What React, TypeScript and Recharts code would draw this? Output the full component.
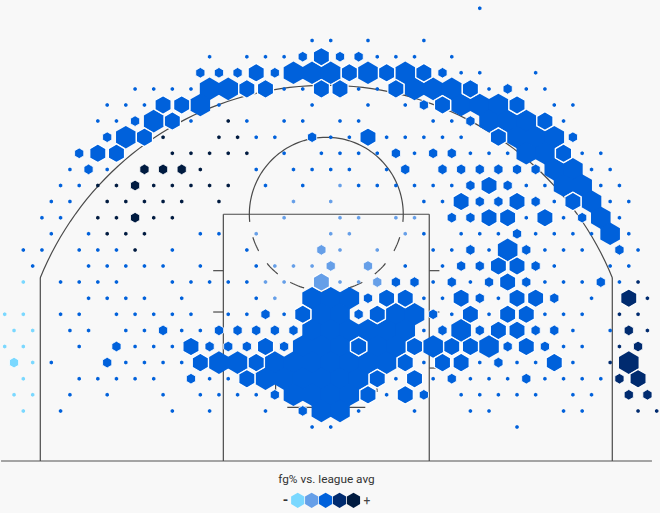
import React from 'react';
import { ScatterChart, Scatter, XAxis, YAxis } from 'recharts';

type RowCols = [number, number[]];

// hex sizes, each entry is [grid row, columns in that row]
const largeHexes: RowCols[] = [
  [22, [15, 16, 17, 19, 21]],
  [21, [11, 12, 22, 23, 24]],
  [20, [10, 24, 25, 26]],
  [19, [8, 26, 27, 28]],
  [18, [6, 27, 28, 29]],
  [17, [28, 29]],
  [16, [29, 30]],
  [15, [30, 31]],
  [14, [31]],
  [13, [32]],
  [12, [32]],
  [11, [27]],
  [8, [16, 17, 18]],
  [7, [17, 18, 21, 22]],
  [6, [16, 17, 18, 19, 20, 21, 24]],
  [5, [16, 17, 18, 20, 21, 23, 26]],
  [4, [11, 12, 14, 15, 16, 17, 18, 19, 20, 33]],
  [3, [14, 15, 16, 17, 18, 19]],
  [2, [15, 16, 17, 18]],
  [1, [17, 18]],
];

const mediumHexes: RowCols[] = [
  [23, [17]],
  [22, [13, 18, 20, 22]],
  [21, [13, 14, 17, 18, 21, 25]],
  [20, [8, 9, 23, 27]],
  [19, [9, 29]],
  [18, [7, 19, 26]],
  [17, [5, 6, 30]],
  [15, [26]],
  [14, [24, 27, 30]],
  [13, [26, 27, 29]],
  [10, [26, 27]],
  [9, [17, 27]],
  [8, [20, 21, 24, 27, 28, 33]],
  [7, [16, 20, 25, 27, 28]],
  [6, [26, 27]],
  [5, [10, 14, 19, 22, 24, 25, 28]],
  [4, [10, 13, 21, 23, 24, 29]],
  [3, [13, 20, 22, 34]],
  [2, [19, 21]],
];

const smallHexes: RowCols[] = [
  [23, [16, 18, 19]],
  [22, [10, 11, 12, 14, 23]],
  [21, [27]],
  [20, [22]],
  [19, [7, 25]],
  [18, [5, 16, 30]],
  [17, [4, 21, 23, 24]],
  [16, [4, 7, 8, 9, 21, 23, 24, 25, 26, 27, 28]],
  [15, [7, 25, 27]],
  [14, [25, 26, 28]],
  [13, [7, 24, 25, 31]],
  [12, [27]],
  [11, [17, 25, 28, 33]],
  [10, [17, 19, 24, 25, 28]],
  [9, [20, 21, 22, 24, 26, 28, 32]],
  [8, [19, 25, 29]],
  [7, [14, 19, 23]],
  [6, [8, 11, 12, 13, 14, 15, 23, 25, 28, 29, 33]],
  [5, [6, 11, 12, 13, 15, 27, 29, 34]],
  [4, [0, 5, 26]],
  [3, [10, 24, 28, 33]],
  [2, [14, 22, 33, 34]],
  [1, [16]],
];

const dotHexes: RowCols[] = [
  [26, [25]],
  [24, [16, 17, 19, 22]],
  [23, [11, 13, 14, 15, 20, 21, 22, 24]],
  [22, [24, 25, 28]],
  [21, [7, 8, 9, 10, 15, 16, 19, 20, 26, 28, 29]],
  [20, [5, 6, 7, 11, 16, 19, 21, 29, 30]],
  [19, [5, 6, 10, 12, 13, 15, 16, 18, 19, 23, 24, 30]],
  [18, [8, 11, 12, 13, 14, 17, 18, 20, 21, 22, 23, 24]],
  [17, [9, 10, 11, 12, 13, 15, 17, 18, 19, 20, 22, 25, 26, 27, 31, 32]],
  [16, [3, 5, 10, 13, 15, 16, 17, 18, 20, 31, 32]],
  [15, [3, 4, 5, 6, 8, 9, 10, 11, 12, 14, 16, 18, 19, 20, 21, 22, 23, 24, 28, 29, 32, 33]],
  [14, [2, 3, 5, 6, 7, 8, 9, 11, 15, 17, 22, 23, 29, 32, 33]],
  [13, [2, 3, 5, 6, 8, 9, 15, 18, 19, 21, 22, 28, 30, 33]],
  [12, [2, 4, 5, 6, 7, 10, 11, 13, 17, 18, 21, 22, 24, 25, 26, 28, 29, 30, 31, 33]],
  [11, [1, 2, 4, 5, 6, 7, 9, 13, 18, 20, 23, 24, 26, 29, 30, 31, 34]],
  [10, [1, 4, 5, 6, 7, 8, 10, 13, 14, 15, 16, 21, 23, 29, 32, 33]],
  [9, [1, 3, 4, 5, 6, 9, 10, 11, 12, 13, 14, 15, 18, 19, 23, 25, 29, 30, 31, 33, 34]],
  [8, [4, 5, 6, 7, 9, 13, 14, 22, 23, 26, 31, 34]],
  [7, [0, 1, 3, 4, 6, 7, 8, 9, 10, 12, 13, 15, 24, 26, 29, 30, 31, 33, 34]],
  [6, [0, 1, 3, 4, 6, 7, 9, 10, 22, 30, 32, 34]],
  [5, [0, 1, 4, 7, 8, 9, 30, 31, 33]],
  [4, [1, 2, 6, 7, 8, 9, 22, 25, 27, 28, 30, 32]],
  [3, [1, 4, 5, 6, 7, 8, 11, 12, 21, 23, 25, 26, 27, 29, 30, 31, 32]],
  [2, [0, 1, 3, 5, 8, 10, 11, 12, 13, 20, 24, 25, 26, 27, 28, 30, 31]],
  [1, [1, 3, 9, 11, 14, 19, 22, 25, 26, 30, 31, 34, 35]],
  [0, [16, 17, 27]],
];

// fg% buckets, anything not listed here is the middle blue
const lowestCells: RowCols[] = [
  [9, [1]],
  [7, [0, 1]],
  [6, [0, 1]],
  [5, [0, 1]],
  [4, [0, 1]],
  [3, [1]],
  [2, [0, 1]],
  [1, [1]],
];

const lowCells: RowCols[] = [
  [15, [18]],
  [14, [15, 17]],
  [13, [15, 18, 19, 21, 22]],
  [12, [13, 17, 18, 21]],
  [11, [17, 18, 20]],
  [10, [14, 15, 16, 17, 19]],
  [9, [14, 15, 17, 18, 19, 20]],
  [8, [14]],
];

const highCells: RowCols[] = [
  [9, [34]],
  [8, [33, 34]],
  [7, [33, 34]],
  [6, [33, 34]],
  [5, [33, 34]],
  [4, [32, 33]],
  [3, [33, 34]],
  [2, [33, 34]],
  [1, [34, 35]],
];

const highestCells: RowCols[] = [
  [19, [12]],
  [18, [8, 11, 12]],
  [17, [9, 10, 11, 12, 13]],
  [16, [7, 8, 9, 10]],
  [15, [5, 6, 7, 8, 9, 10, 11, 12]],
  [14, [5, 6, 7, 8, 9, 11]],
  [13, [5, 6, 7, 8, 9]],
  [12, [5, 6, 7]],
  [11, [7]],
];

const bucketColors = ['#7ad8ff', '#669fe8', '#0061db', '#002b6f', '#001b40'];

const WIDTH = 660;
const HEIGHT = 513;
const BG = '#f8f8f8';

// court is in feet, origin under the hoop on the baseline
const X_DOMAIN = [-25.1, 25.67];
const Y_DOMAIN = [-4, 35.46];
const COL_STEP = 1.433;
const ROW_STEP = 1.2385;
const EVEN_ROW_X = -24.02;
const ODD_ROW_X = -24.74;
const FIRST_ROW_Y = 2.615;

const inCells = (cells: RowCols[], row: number, col: number) =>
  cells.some(([r, cols]) => r === row && cols.includes(col));

const bucketOf = (row: number, col: number) => {
  if (inCells(lowestCells, row, col)) return 0;
  if (inCells(lowCells, row, col)) return 1;
  if (inCells(highCells, row, col)) return 3;
  if (inCells(highestCells, row, col)) return 4;
  return 2;
};

const toPoints = (rows: RowCols[], radius: number, halo: number) =>
  rows.flatMap(([row, cols]) =>
    cols.map((col) => ({
      x: (row % 2 === 0 ? EVEN_ROW_X : ODD_ROW_X) + col * COL_STEP,
      y: FIRST_ROW_Y + row * ROW_STEP,
      radius,
      halo,
      bucket: bucketOf(row, col),
    }))
  );

// large first so the smaller ones and their white edge sit on top
const hexSeries = [
  toPoints(largeHexes, 11.3, 0),
  toPoints(dotHexes, 2, 0),
  toPoints(smallHexes, 5.3, 0.8),
  toPoints(mediumHexes, 9.3, 1.2),
];

const hexPoints = (cx: number, cy: number, r: number) =>
  [0, 1, 2, 3, 4, 5]
    .map((i) => {
      const a = (Math.PI / 3) * i + Math.PI / 6;
      return `${(cx + r * Math.cos(a)).toFixed(2)},${(cy + r * Math.sin(a)).toFixed(2)}`;
    })
    .join(' ');

const HexShape = (props: any) => {
  const { cx, cy, payload } = props;
  return (
    <polygon
      points={hexPoints(cx, cy, payload.radius)}
      fill={bucketColors[payload.bucket]}
      stroke={payload.halo ? '#ffffff' : 'none'}
      strokeWidth={payload.halo}
    />
  );
};

const arc = (cy: number, r: number, from: number, to: number) => {
  const pts = [];
  const steps = 80;
  for (let i = 0; i <= steps; i++) {
    const a = ((from + ((to - from) * i) / steps) * Math.PI) / 180;
    pts.push({ x: r * Math.cos(a), y: cy + r * Math.sin(a) });
  }
  return pts;
};

const seg = (x1: number, y1: number, x2: number, y2: number) => [
  { x: x1, y: y1 },
  { x: x2, y: y2 },
];

const LANE_X = 7.92;
const LANE_TOP = 18.98;
const HOOP_Y = 5.15;
const FT_RADIUS = 5.92;

const courtLines = [
  seg(-22, 0, -22, 14.08),
  seg(22, 0, 22, 14.08),
  arc(HOOP_Y, 23.75, 22.08, 157.92),
  seg(-LANE_X, 0, -LANE_X, LANE_TOP),
  seg(LANE_X, 0, LANE_X, LANE_TOP),
  seg(-LANE_X, LANE_TOP, LANE_X, LANE_TOP),
  arc(LANE_TOP, FT_RADIUS, -5.7, 185.7),
  seg(-8.7, 14.64, -LANE_X, 14.64),
  seg(-8.7, 11.46, -LANE_X, 11.46),
  seg(-8.7, 7.15, -LANE_X, 7.15),
  seg(LANE_X, 14.64, 8.7, 14.64),
  seg(LANE_X, 11.46, 8.7, 11.46),
  seg(LANE_X, 7.15, 8.7, 7.15),
  seg(-3, 4.13, 3, 4.13),
  seg(-3.9, 5.3, -3.9, 6.2),
  seg(3.9, 5.3, 3.9, 6.2),
];

const noMark = () => <g />;

const Legend = () => (
  <div style={{ position: 'absolute', left: 0, top: 470, width: 653, textAlign: 'center' }}>
    <div style={{ fontFamily: 'Roboto, sans-serif', fontSize: 11.8, lineHeight: '18px', color: '#333' }}>
      fg% vs. league avg
    </div>
    <svg width={WIDTH} height={24} style={{ position: 'absolute', left: 0, top: 18 }}>
      <text x={285.5} y={16.5} textAnchor="middle" fontFamily="Roboto, sans-serif" fontSize={14} fontWeight={700} fill="#333">
        -
      </text>
      {bucketColors.map((c, i) => (
        <polygon key={c} points={hexPoints(297.7 + i * 13.95, 12.3, 7.6)} fill={c} />
      ))}
      <text x={367} y={16.5} textAnchor="middle" fontFamily="Roboto, sans-serif" fontSize={12} fill="#444">
        +
      </text>
    </svg>
  </div>
);

export default function App() {
  return (
    <div style={{ position: 'absolute', left: 0, top: 0, width: WIDTH, height: HEIGHT, background: BG, overflow: 'hidden' }}>
      <ScatterChart width={WIDTH} height={HEIGHT} margin={{ top: 0, right: 0, bottom: 0, left: 0 }}>
        <XAxis type="number" dataKey="x" domain={X_DOMAIN} hide />
        <YAxis type="number" dataKey="y" domain={Y_DOMAIN} hide />
        <Scatter
          data={seg(-25.02, 0, 25.05, 0)}
          line={{ stroke: '#888888', strokeWidth: 1.6 }}
          shape={noMark}
          isAnimationActive={false}
        />
        {courtLines.map((pts, i) => (
          <Scatter
            key={i}
            data={pts}
            line={{ stroke: '#4a4a4a', strokeWidth: 1.2 }}
            shape={noMark}
            isAnimationActive={false}
          />
        ))}
        <Scatter
          data={arc(LANE_TOP, FT_RADIUS, 197.4, 342.6)}
          line={{ stroke: '#4a4a4a', strokeWidth: 1.2, strokeDasharray: '15 15' }}
          shape={noMark}
          isAnimationActive={false}
        />
        {hexSeries.map((pts, i) => (
          <Scatter key={`hex-${i}`} data={pts} shape={HexShape} isAnimationActive={false} />
        ))}
      </ScatterChart>
      <Legend />
    </div>
  );
}
